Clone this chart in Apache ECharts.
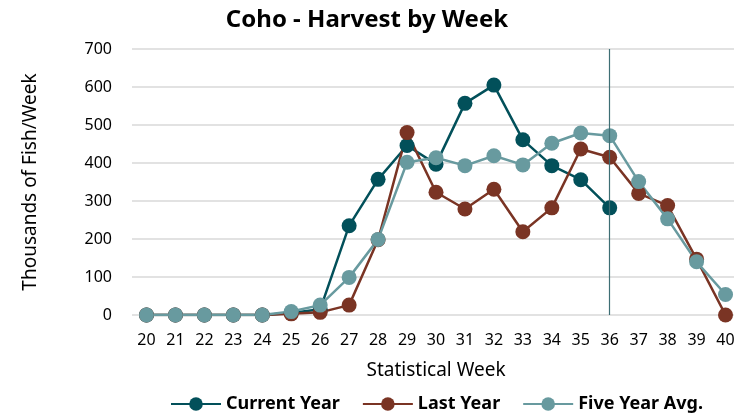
<!DOCTYPE html>
<html>
<head>
<meta charset="utf-8">
<script src="https://cdn.jsdelivr.net/npm/echarts@6/dist/echarts.min.js"></script>
<style>
  html, body { margin: 0; padding: 0; background: #fff; overflow: hidden; }
  #main { width: 740px; height: 415px; }
</style>
</head>
<body>
<div id="main"></div>
<script>
const weeks = ['20', '21', '22', '23', '24', '25', '26', '27', '28', '29', '30',
  '31', '32', '33', '34', '35', '36', '37', '38', '39', '40']

// thousands of fish per week
const currentYear = [0, 0, 0, 0, 0, 5, 15, 235, 357, 446, 397, 557, 605, 461, 393, 356, 282]
const lastYear = [0, 0, 0, 0, 0, 3, 7, 26, 198, 480, 323, 279, 331, 219, 282, 437, 415, 320, 288, 147, 0]
const fiveYearAvg = [0, 0, 0, 0, 0, 9, 26, 99, 199, 402, 414, 393, 419, 395, 452, 479, 472, 351, 253, 140, 54]

const colors = ['#02505a', '#7a3424', '#689a9f']
const font = 'Noto Sans'

const chart = echarts.init(document.getElementById('main'))

function lineSeries(name, data, color) {
  return {
    name: name,
    type: 'line',
    data: data,
    symbol: 'circle',
    symbolSize: 15,
    lineStyle: { color: color, width: 2.5 },
    itemStyle: { color: color },
    z: 3
  }
}

const series = [
  lineSeries('Current Year', currentYear, colors[0]),
  lineSeries('Last Year', lastYear, colors[1]),
  lineSeries('Five Year Avg.', fiveYearAvg, colors[2])
]
series[0].markLine = {
  silent: true,
  symbol: 'none',
  label: { show: false },
  lineStyle: { color: '#3e6e74', width: 1.2, type: 'solid' },
  data: [{ xAxis: '36' }]
}

chart.setOption({
  animation: false,
  textStyle: { fontFamily: font },
  title: {
    text: 'Coho - Harvest by Week',
    left: 362,
    textAlign: 'center',
    top: 3,
    textStyle: { fontSize: 24, fontWeight: 'bold', color: '#000', fontFamily: font }
  },
  legend: {
    top: 390,
    left: 165,
    itemWidth: 50,
    itemHeight: 17,
    itemGap: 22,
    textStyle: { fontSize: 18, fontWeight: 'bold', color: '#000', fontFamily: font },
    data: ['Current Year', 'Last Year', 'Five Year Avg.']
  },
  grid: { left: 132, top: 49, right: 0, height: 266 },
  xAxis: {
    type: 'category',
    data: weeks,
    boundaryGap: true,
    name: 'Statistical Week',
    nameLocation: 'middle',
    nameGap: 46,
    nameTextStyle: { fontSize: 19, color: '#000' },
    axisLine: { show: false },
    axisTick: { show: false },
    axisLabel: { fontSize: 16, color: '#000', margin: 17, interval: 0 }
  },
  yAxis: {
    type: 'value',
    min: 0,
    max: 700,
    interval: 100,
    name: 'Thousands of Fish/Week',
    nameLocation: 'middle',
    nameGap: 92,
    nameTextStyle: { fontSize: 19, color: '#000' },
    axisLine: { show: false },
    axisTick: { show: false },
    axisLabel: { fontSize: 16, color: '#000', margin: 20 },
    splitLine: { lineStyle: { color: '#d9d9d9', width: 1.5 } }
  },
  series: series
})
</script>
</body>
</html>
